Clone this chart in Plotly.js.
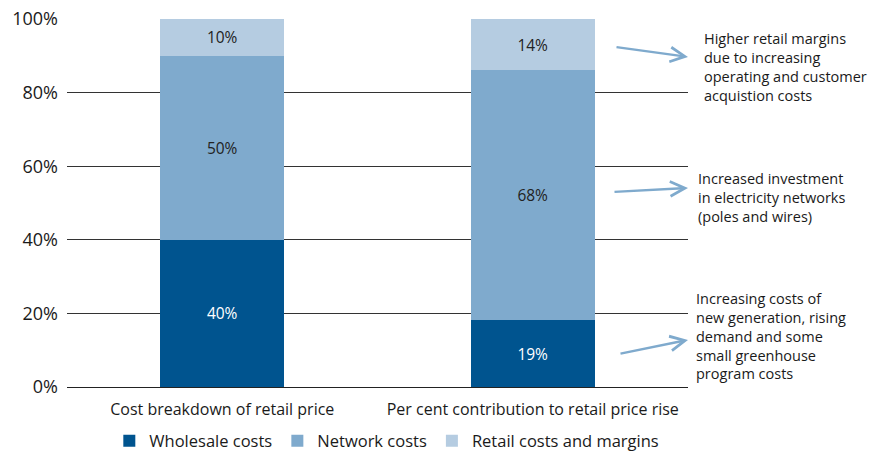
<!DOCTYPE html>
<html>
<head>
<meta charset="utf-8">
<script src="https://cdn.plot.ly/plotly-3.0.1.min.js"></script>
<style>html,body{margin:0;padding:0;background:#fff;}#chart{width:876px;height:453px;}</style>
</head>
<body>
<div id="chart"></div>
<script>
const categories = ["Cost breakdown of retail price", "Per cent contribution to retail price rise"];
const wholesale = [40, 18.2];
const network = [50, 67.9];
const retail = [10, 13.9];
const wholesaleLabels = ["40%", "19%"];
const networkLabels = ["50%", "68%"];
const retailLabels = ["10%", "14%"];
const seriesNames = ["Wholesale costs", "Network costs", "Retail costs and margins"];
const notes = [
  "Higher retail margins<br>due to increasing<br>operating and customer<br>acquistion costs",
  "Increased investment<br>in electricity networks<br>(poles and wires)",
  "Increasing costs of<br>new generation, rising<br>demand and some<br>small greenhouse<br>program costs"
];
const noteTargets = [89.7, 54.1, 12.8];

const FONT = "Open Sans, Noto Sans, sans-serif";
const colors = ["#00548f", "#7faacd", "#b5cce1"];
const textColors = ["#ffffff", "#222222", "#222222"];

const series = [wholesale, network, retail];
const labels = [wholesaleLabels, networkLabels, retailLabels];
const traces = series.map((vals, i) => ({
  type: "bar",
  name: seriesNames[i],
  x: categories,
  y: vals,
  text: labels[i],
  textposition: "inside",
  insidetextanchor: "middle",
  textfont: {family: FONT, size: 15.5, color: textColors[i]},
  hoverinfo: "none",
  marker: {color: colors[i], line: {width: 0}}
}));

const tails = [[-73, -10], [-75, 4], [-69, 14]];
const noteTops = [27, 167, 287];
const noteX = [702, 696, 694];
const annotations = [];
notes.forEach((t, i) => {
  annotations.push({
    xref: "paper", yref: "y", x: 1.0, y: noteTargets[i],
    ax: tails[i][0], ay: tails[i][1], axref: "pixel", ayref: "pixel",
    showarrow: true, arrowhead: 5, arrowsize: 1.2, arrowwidth: 2.4,
    arrowcolor: "#7faacd", text: "", standoff: 0
  });
  annotations.push({
    xref: "paper", yref: "paper",
    x: (noteX[i] - 67) / 621, y: 1 - (noteTops[i] - 19) / 368,
    xanchor: "left", yanchor: "top", align: "left", showarrow: false,
    text: t, font: {family: FONT, size: 14.5, color: "#1a1a1a"}
  });
});

const layout = {
  width: 876, height: 453,
  margin: {l: 67, r: 188, t: 19, b: 66, autoexpand: false},
  paper_bgcolor: "#fff", plot_bgcolor: "#fff",
  barmode: "stack", bargap: 0.6,
  showlegend: true,
  legend: {orientation: "h", x: 0.515, xanchor: "center", y: -0.147, yanchor: "middle",
           font: {family: FONT, size: 16.5, color: "#1a1a1a"}, traceorder: "normal",
           itemwidth: 30},
  xaxis: {showgrid: false, zeroline: false, showline: true, linecolor: "#222", linewidth: 1,
          tickfont: {family: FONT, size: 16, color: "#1a1a1a"}, ticks: "", ticklabelstandoff: 8,
          fixedrange: true},
  yaxis: {range: [0, 100], tickvals: [0, 20, 40, 60, 80, 100],
          ticktext: ["0%", "20%", "40%", "60%", "80%", "100%"],
          showgrid: true, gridcolor: "#333", gridwidth: 1, zeroline: false,
          showline: false, ticks: "", ticklabelstandoff: 8,
          tickfont: {family: FONT, size: 18, color: "#1a1a1a"}, fixedrange: true},
  annotations: annotations,
  font: {family: FONT}
};

Plotly.newPlot("chart", traces, layout, {displayModeBar: false, staticPlot: true});
</script>
</body>
</html>
